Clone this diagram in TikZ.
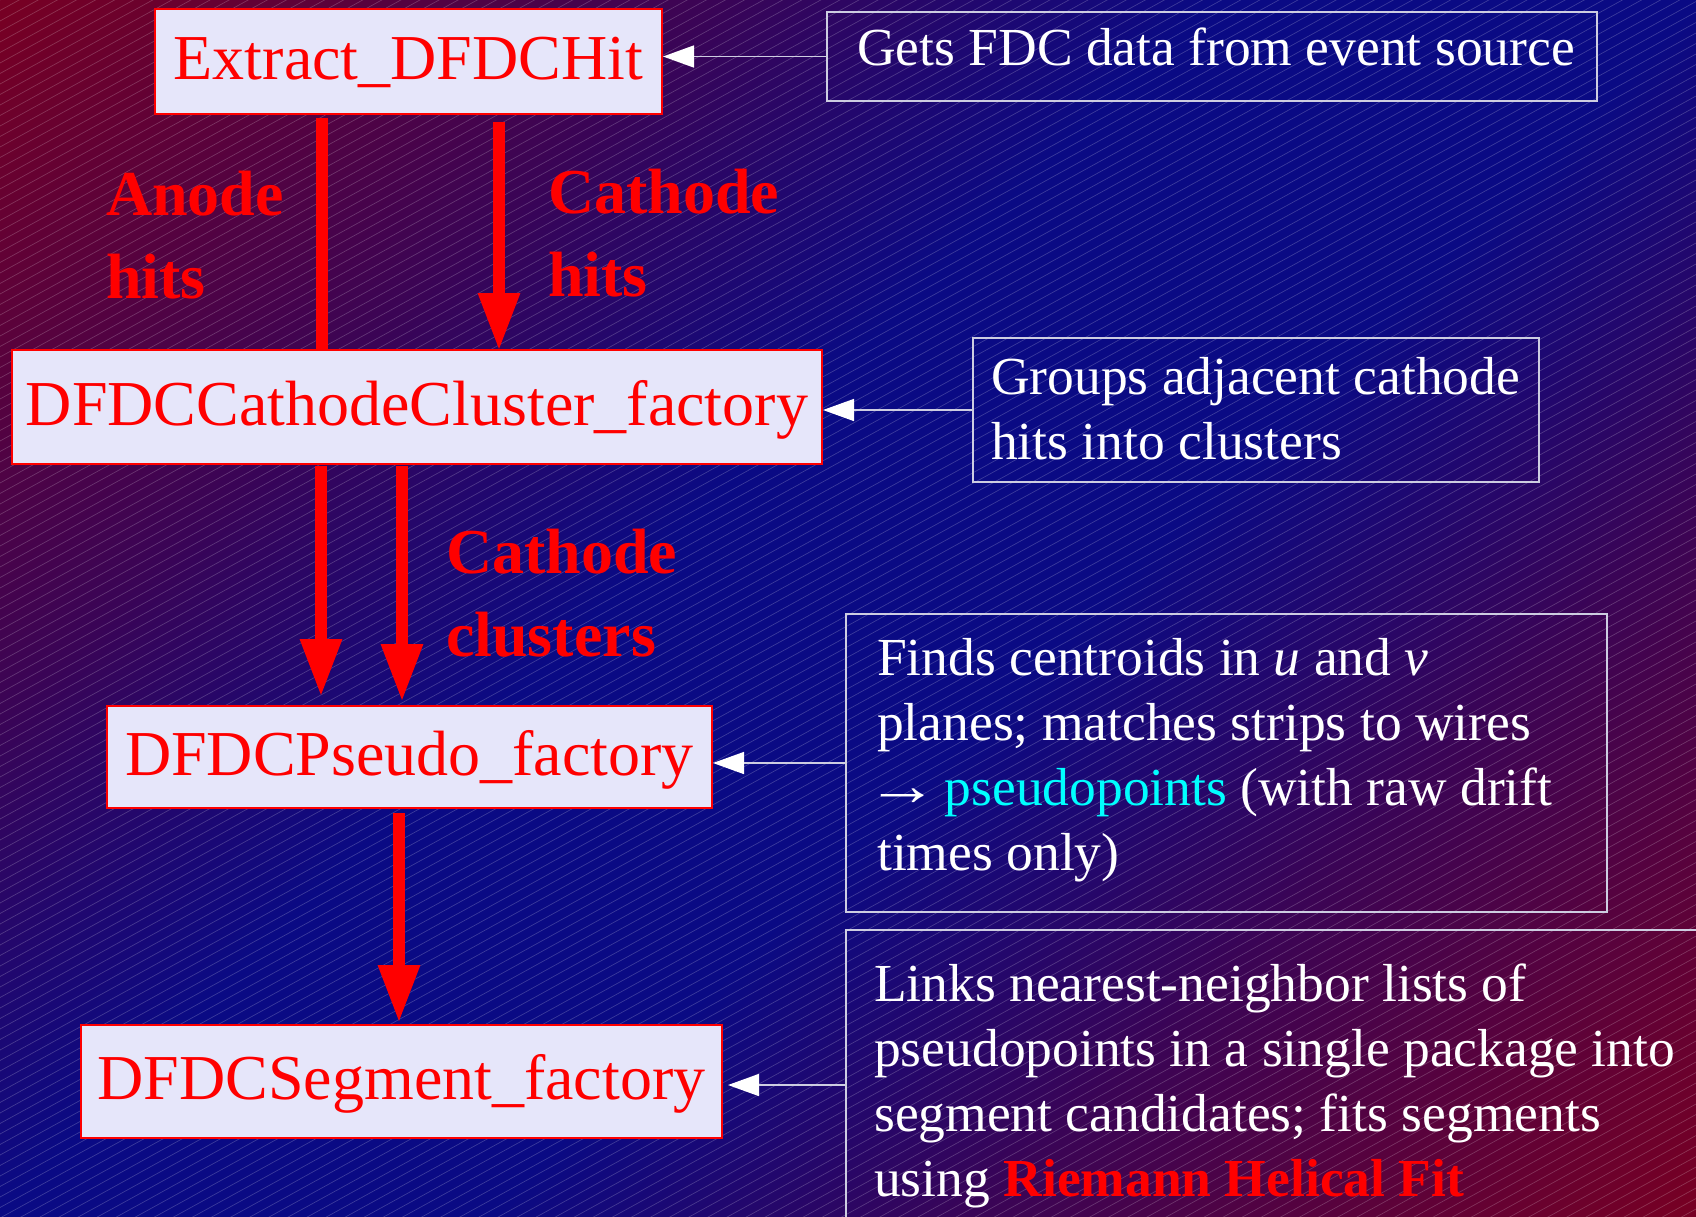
\documentclass[tikz,border=0pt]{standalone}
\usepackage{fontspec}
\setmainfont{Liberation Serif}
\usetikzlibrary{arrows.meta,calc}
\definecolor{bgred}{RGB}{118,0,36}
\definecolor{bgmid}{RGB}{58,4,86}
\definecolor{bgblue}{RGB}{10,10,132}
\definecolor{boxfill}{RGB}{230,230,250}
\definecolor{descline}{RGB}{205,205,225}
\definecolor{pcyan}{RGB}{0,255,255}
\pgfdeclareverticalshading{bgshade}{100bp}{color(0bp)=(bgred); color(15bp)=(bgred); color(32bp)=(bgmid); color(44bp)=(bgblue); color(56bp)=(bgblue); color(68bp)=(bgmid); color(85bp)=(bgred); color(100bp)=(bgred)}
\begin{document}
\begin{tikzpicture}[x=1pt,y=-1pt,
  factory/.style={draw=red, line width=2pt, fill=boxfill, text=red, inner sep=0pt,
    font=\fontsize{64}{77}\selectfont, text height=42pt, text depth=6pt},
  descbox/.style={draw=descline, line width=1.5pt, inner sep=0pt},
  desctext/.style={text=white, inner sep=0pt, anchor=base west, font=\fontsize{53.5}{65}\selectfont},
  flowlabel/.style={text=red, inner sep=0pt, anchor=base west, font=\fontsize{64}{83}\selectfont\bfseries},
  flow/.style={draw=red, line width=12pt},
  flowarrow/.style={flow, -{Triangle[length=58pt,width=39pt]}},
  notearrow/.style={draw=descline, line width=1.5pt, -{Triangle[length=31pt,width=22pt,fill=white,color=white]}}
]
\useasboundingbox (0,0) rectangle (1696,1216);
\begin{scope}
  \clip (0,0) rectangle (1696,1216);
  \shade[shading=bgshade, shading angle=45] (0,0) rectangle (1696,1216);
  \foreach \c in {0,10.5,...,2160}
    \draw[white, opacity=0.2, line width=0.7pt] (0,\c) -- (1696,\c-933);
\end{scope}

% factory boxes
\node[factory, minimum width=507pt, minimum height=105pt] (extract) at (408.5,61.5) {Extract\_DFDCHit};
\node[factory, minimum width=810pt, minimum height=114pt] (cluster) at (417,407) {DFDCCathodeCluster\_factory};
\node[factory, minimum width=605pt, minimum height=102pt] (pseudo) at (409.5,757) {DFDCPseudo\_factory};
\node[factory, minimum width=641pt, minimum height=113pt] (segment) at (401.5,1081.5) {DFDCSegment\_factory};

% description boxes
\node[descbox, minimum width=770pt, minimum height=89pt] (d1) at (1212,56.5) {};
\node[descbox, minimum width=566pt, minimum height=144pt] (d2) at (1256,410) {};
\node[descbox, minimum width=761pt, minimum height=298pt] (d3) at (1226.5,763) {};
\node[descbox, minimum width=874pt, minimum height=310pt] (d4) at (1283,1085) {};

\node[desctext] (t1) at (857,65) {Gets FDC data from event source};
\node[desctext] (t2) at (991,394) {\begin{tabular}[t]{@{}l@{}}Groups adjacent cathode\\hits into clusters\end{tabular}};
\node[desctext] (t3) at (877,675) {\begin{tabular}[t]{@{}l@{}}Finds centroids in \textit{u} and \textit{v}\\planes; matches strips to wires\\\hspace*{-11pt}\scalebox{1.35}[1.1]{→}\hspace{-7pt} {\color{pcyan}pseudopoints} (with raw drift\\times only)\end{tabular}};
\node[desctext] (t4) at (874,1001) {\begin{tabular}[t]{@{}l@{}}Links nearest-neighbor lists of\\pseudopoints in a single package into\\segment candidates; fits segments\\using {\bfseries\color{red}Riemann Helical Fit}\end{tabular}};

% flow labels
\node[flowlabel] (lanode) at (106,215) {\begin{tabular}[t]{@{}l@{}}Anode\\hits\end{tabular}};
\node[flowlabel] (lcath) at (548,213) {\begin{tabular}[t]{@{}l@{}}Cathode\\hits\end{tabular}};
\node[flowlabel] (lclus) at (446,573) {\begin{tabular}[t]{@{}l@{}}Cathode\\clusters\end{tabular}};

% flow arrows
\coordinate (xa) at (322,0);
\coordinate (xc) at (499,0);
\coordinate (xl) at (321,0);
\coordinate (xr) at (402,0);
\coordinate (xs) at (399,0);
\draw[flow] ($(extract.south -| xa)+(0,3)$) -- (cluster.north -| xa);
\draw[flowarrow] ($(extract.south -| xc)+(0,7)$) -- ($(cluster.north -| xc)+(0,2)$);
\draw[flowarrow] ($(cluster.south -| xl)+(0,1)$) -- ($(pseudo.north -| xl)+(0,-8)$);
\draw[flowarrow] ($(cluster.south -| xr)+(0,1)$) -- ($(pseudo.north -| xr)+(0,-3)$);
\draw[flowarrow] ($(pseudo.south -| xs)+(0,4)$) -- ($(segment.north -| xs)+(0,-1)$);

% note arrows
\draw[notearrow] (d1.west) -- (d1.west -| extract.east);
\draw[notearrow] (d2.west) -- (d2.west -| cluster.east);
\draw[notearrow] (d3.west) -- (d3.west -| pseudo.east);
\draw[notearrow] (d4.west) -- ($(d4.west -| segment.east)+(5,0)$);
\end{tikzpicture}
\end{document}
